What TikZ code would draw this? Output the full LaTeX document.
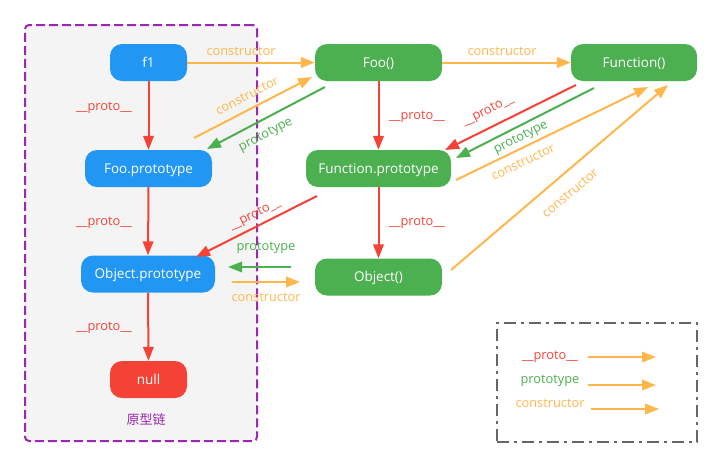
\documentclass[tikz,border=0pt]{standalone}
\usepackage{fontspec}
\setmainfont{Open Sans}
\newfontfamily\cjkfont{Noto Sans CJK SC}
\usetikzlibrary{arrows.meta}
\definecolor{cblue}{HTML}{2196F3}
\definecolor{cgreen}{HTML}{4CAF50}
\definecolor{cred}{HTML}{F44336}
\definecolor{corange}{HTML}{FFB74D}
\definecolor{cpurple}{HTML}{9C27B0}
\definecolor{cgrey}{HTML}{666666}
\definecolor{cbg}{HTML}{F4F4F4}
\begin{document}
\begin{tikzpicture}[x=1pt,y=-1pt,
  box/.style={rounded corners=12pt, text=white, font=\fontsize{13.5}{15}\selectfont, inner sep=0pt,
              minimum height=37pt, text height=11.6pt, text depth=2pt},
  bluebox/.style={box, fill=cblue},
  greenbox/.style={box, fill=cgreen},
  redbox/.style={box, fill=cred},
  conn/.style={line width=2pt, -{Triangle[length=14pt,width=10.5pt]}},
  protoline/.style={conn, draw=cred},
  typeline/.style={conn, draw=cgreen},
  ctorline/.style={conn, draw=corange},
  lbl/.style={font=\fontsize{12.8}{14}\selectfont, inner sep=0pt},
  protolbl/.style={lbl, text=cred},
  typelbl/.style={lbl, text=cgreen},
  ctorlbl/.style={lbl, text=corange},
]
\useasboundingbox (0,0) rectangle (722,467);
% containers
\node[draw=cpurple, fill=cbg, line width=2pt, dash pattern=on 9pt off 4pt, rounded corners=4pt,
      minimum width=232pt, minimum height=416pt, inner sep=0pt] (chain) at (141,233) {};
\node[draw=cgrey, line width=2pt, dash pattern=on 12pt off 5pt on 3pt off 5pt,
      minimum width=200pt, minimum height=119pt, inner sep=0pt] (legend) at (597,382.5) {};
\node[font=\cjkfont\fontsize{13}{15}\selectfont, text=cpurple, inner sep=0pt] (chainlbl) at (146,420) {原型链};

% nodes
\node[bluebox, minimum width=77pt] (f1) at (148.5,62.5) {f1};
\node[bluebox, minimum width=127pt] (fooP) at (148.5,168.5) {Foo.prototype};
\node[bluebox, minimum width=134pt] (objP) at (148,274) {Object.prototype};
\node[redbox, minimum width=77pt] (null) at (148.5,379.5) {null};
\node[greenbox, minimum width=127pt] (Foo) at (378.5,62.5) {Foo()};
\node[greenbox, minimum width=126pt] (Func) at (634,62.5) {Function()};
\node[greenbox, minimum width=145pt] (funcP) at (378.5,168.5) {Function.prototype};
\node[greenbox, minimum width=127pt] (Obj) at (378.5,277) {Object()};

% vertical proto chain
\draw[protoline] (f1.south) -- (fooP.north);
\draw[protoline] (fooP.south) -- (objP.north);
\draw[protoline] (objP.south) -- (null.north);
\draw[protoline] (Foo.south) -- (funcP.north);
\draw[protoline] (funcP.south) -- (Obj.north);
\node[protolbl] (l1) at (104,108) {\_\_proto\_\_};
\node[protolbl] (l2) at (104,223) {\_\_proto\_\_};
\node[protolbl] (l3) at (104,328) {\_\_proto\_\_};
\node[protolbl] (l4) at (417,117) {\_\_proto\_\_};
\node[protolbl] (l5) at (417,223) {\_\_proto\_\_};

% horizontal constructors
\draw[ctorline] (f1.east) -- (Foo.west);
\node[ctorlbl] (l6) at (241,51) {constructor};
\draw[ctorline] (Foo.east) -- (Func.west);
\node[ctorlbl] (l7) at (502,51) {constructor};

% Foo <-> Foo.prototype
\draw[ctorline] ([shift={(45.5,-30.5)}]fooP.center) -- ([shift={(-66.5,14.5)}]Foo.center);
\node[ctorlbl, rotate=27.3] (l8) at (247,96) {constructor};
\draw[typeline] ([shift={(-53.5,24.5)}]Foo.center) -- ([shift={(58.5,-19.5)}]fooP.center);
\node[typelbl, rotate=27.7] (l9) at (266,135) {prototype};

% Function() <-> Function.prototype
\draw[protoline] ([shift={(-58,22.5)}]Func.center) -- ([shift={(66.5,-18.5)}]funcP.center);
\node[protolbl, rotate=26.4] (l10) at (488,111) {\_\_proto\_\_};
\draw[typeline] ([shift={(-40,25.5)}]Func.center) -- ([shift={(77.5,-10.5)}]funcP.center);
\node[typelbl, rotate=26.9] (l11) at (521,138) {prototype};
\draw[ctorline] ([shift={(77.5,11.5)}]funcP.center) -- ([shift={(14,24.5)}]Func.center);
\node[ctorlbl, rotate=25.8] (l12) at (523,162) {constructor};

% Object() -> Function()
\draw[ctorline] ([shift={(72.5,-7)}]Obj.center) -- ([shift={(34,22.5)}]Func.center);
\node[ctorlbl, rotate=40.4] (l13) at (570,193) {constructor};

% Function.prototype -> Object.prototype
\draw[protoline] ([shift={(-61.5,27.5)}]funcP.center) -- ([shift={(48,-17)}]objP.center);
\node[protolbl, rotate=26.8] (l14) at (255,215) {\_\_proto\_\_};

% Object() <-> Object.prototype
\draw[typeline] ([shift={(-87.5,-10)}]Obj.center) -- ([shift={(80,-7)}]objP.center);
\node[typelbl] (l15) at (266,248) {prototype};
\draw[ctorline] ([shift={(84,8)}]objP.center) -- ([shift={(-78.5,5)}]Obj.center);
\node[ctorlbl] (l16) at (266,297) {constructor};

% legend
\coordinate (k1a) at (588,357); \coordinate (k1b) at (656,357);
\coordinate (k2a) at (588,385); \coordinate (k2b) at (656,385);
\coordinate (k3a) at (591,409); \coordinate (k3b) at (659,409);
\node[protolbl] (k1) at (550,357) {\_\_proto\_\_};
\node[typelbl] (k2) at (550,381) {prototype};
\node[ctorlbl] (k3) at (550,403) {constructor};
\draw[ctorline] (k1a) -- (k1b);
\draw[ctorline] (k2a) -- (k2b);
\draw[ctorline] (k3a) -- (k3b);
\end{tikzpicture}
\end{document}
